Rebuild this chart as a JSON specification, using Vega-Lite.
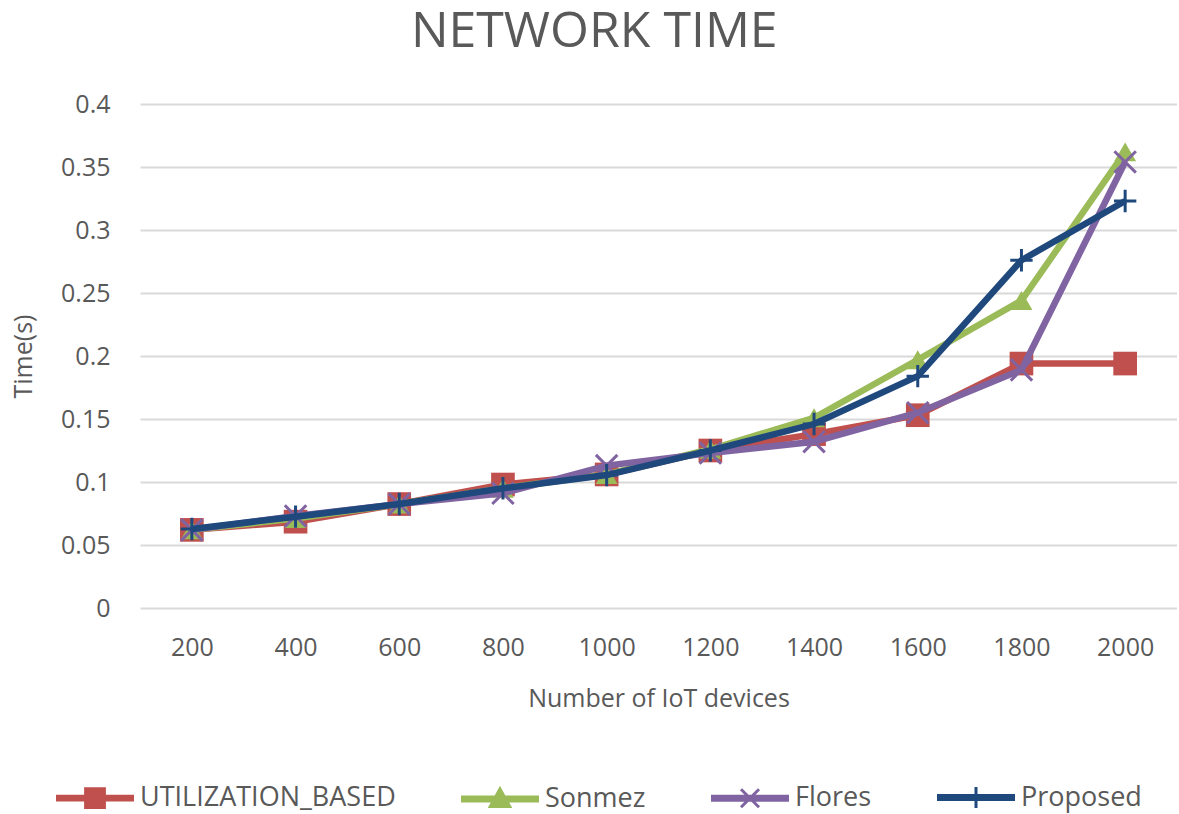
{
  "$schema": "https://vega.github.io/schema/vega-lite/v6.json",
  "width": 1037,
  "height": 504,
  "padding": {"left": 11, "top": 7, "right": 0, "bottom": 0},
  "background": "white",
  "title": {
    "text": "NETWORK TIME",
    "font": "Open Sans",
    "fontSize": 50,
    "fontWeight": "normal",
    "color": "#595959",
    "anchor": "middle",
    "frame": "bounds",
    "offset": 35
  },
  "data": {
    "values": [
      {"n": 200, "series": "UTILIZATION_BASED", "t": 0.062},
      {"n": 400, "series": "UTILIZATION_BASED", "t": 0.0685},
      {"n": 600, "series": "UTILIZATION_BASED", "t": 0.0825},
      {"n": 800, "series": "UTILIZATION_BASED", "t": 0.098},
      {"n": 1000, "series": "UTILIZATION_BASED", "t": 0.106},
      {"n": 1200, "series": "UTILIZATION_BASED", "t": 0.125},
      {"n": 1400, "series": "UTILIZATION_BASED", "t": 0.138},
      {"n": 1600, "series": "UTILIZATION_BASED", "t": 0.153},
      {"n": 1800, "series": "UTILIZATION_BASED", "t": 0.194},
      {"n": 2000, "series": "UTILIZATION_BASED", "t": 0.194},
      {"n": 200, "series": "Sonmez", "t": 0.062},
      {"n": 400, "series": "Sonmez", "t": 0.071},
      {"n": 600, "series": "Sonmez", "t": 0.0825},
      {"n": 800, "series": "Sonmez", "t": 0.095},
      {"n": 1000, "series": "Sonmez", "t": 0.106},
      {"n": 1200, "series": "Sonmez", "t": 0.126},
      {"n": 1400, "series": "Sonmez", "t": 0.151},
      {"n": 1600, "series": "Sonmez", "t": 0.197},
      {"n": 1800, "series": "Sonmez", "t": 0.244},
      {"n": 2000, "series": "Sonmez", "t": 0.362},
      {"n": 200, "series": "Flores", "t": 0.062},
      {"n": 400, "series": "Flores", "t": 0.073},
      {"n": 600, "series": "Flores", "t": 0.0825},
      {"n": 800, "series": "Flores", "t": 0.091},
      {"n": 1000, "series": "Flores", "t": 0.113},
      {"n": 1200, "series": "Flores", "t": 0.123},
      {"n": 1400, "series": "Flores", "t": 0.132},
      {"n": 1600, "series": "Flores", "t": 0.155},
      {"n": 1800, "series": "Flores", "t": 0.189},
      {"n": 2000, "series": "Flores", "t": 0.354},
      {"n": 200, "series": "Proposed", "t": 0.0627},
      {"n": 400, "series": "Proposed", "t": 0.0725},
      {"n": 600, "series": "Proposed", "t": 0.0825},
      {"n": 800, "series": "Proposed", "t": 0.095},
      {"n": 1000, "series": "Proposed", "t": 0.1055},
      {"n": 1200, "series": "Proposed", "t": 0.125},
      {"n": 1400, "series": "Proposed", "t": 0.146},
      {"n": 1600, "series": "Proposed", "t": 0.184},
      {"n": 1800, "series": "Proposed", "t": 0.276},
      {"n": 2000, "series": "Proposed", "t": 0.323}
    ]
  },
  "encoding": {
    "x": {
      "field": "n",
      "type": "ordinal",
      "scale": {"type": "point", "padding": 0.5},
      "axis": {
        "title": "Number of IoT devices",
        "labelAngle": 0,
        "labelPadding": 27,
        "titlePadding": 26
      }
    },
    "y": {
      "field": "t",
      "type": "quantitative",
      "scale": {"domain": [0, 0.4], "nice": false},
      "axis": {
        "title": "Time(s)",
        "values": [0, 0.05, 0.1, 0.15, 0.2, 0.25, 0.3, 0.35, 0.4],
        "format": "~g",
        "labelPadding": 30,
        "titlePadding": 24
      }
    },
    "color": {
      "field": "series",
      "type": "nominal",
      "scale": {
        "domain": ["UTILIZATION_BASED", "Sonmez", "Flores", "Proposed"],
        "range": ["#C0504D", "#9BBB59", "#8064A2", "#1F497D"]
      },
      "legend": {
        "title": null,
        "orient": "none",
        "legendX": -86,
        "legendY": 680,
        "direction": "horizontal",
        "symbolSize": 400,
        "symbolStrokeWidth": 3,
        "labelOffset": 59,
        "columnPadding": 60,
        "encode": {
          "symbols": {
            "update": {
              "shape": {"signal": "datum.value === 'UTILIZATION_BASED' ? 'M-1,-0.19H6.5V0.19H-1Z M1.81,-0.94H3.69V0.94H1.81Z' : datum.value === 'Sonmez' ? 'M-1,-0.19H6.5V0.19H-1Z M2.75,-1.01L3.725,0.75L1.775,0.75Z' : datum.value === 'Flores' ? 'M-1,-0.19H6.5V0.19H-1Z M1.85,-0.9L3.65,0.9M1.85,0.9L3.65,-0.9' : 'M-1,-0.19H6.5V0.19H-1Z M1.74,0L3.76,0M2.75,-1.05L2.75,1.05'"},
              "fill": {"scale": "color", "field": "value"},
              "stroke": {"scale": "color", "field": "value"},
              "opacity": {"value": 1}
            }
          }
        }
      }
    }
  },
  "layer": [
    {"transform": [{"filter": "datum.series === 'UTILIZATION_BASED'"}], "mark": {"type": "line", "strokeWidth": 6.5}},
    {"transform": [{"filter": "datum.series === 'UTILIZATION_BASED'"}], "mark": {"type": "point", "shape": "square", "filled": true, "size": 560, "opacity": 1}},
    {"transform": [{"filter": "datum.series === 'Sonmez'"}], "mark": {"type": "line", "strokeWidth": 6.5}},
    {"transform": [{"filter": "datum.series === 'Sonmez'"}], "mark": {"type": "point", "shape": "triangle-up", "filled": true, "size": 480, "opacity": 1}},
    {"transform": [{"filter": "datum.series === 'Flores'"}], "mark": {"type": "line", "strokeWidth": 6.5}},
    {"transform": [{"filter": "datum.series === 'Flores'"}], "mark": {"type": "point", "shape": "M-1,-1L1,1M-1,1L1,-1", "filled": false, "strokeWidth": 3, "size": 460, "opacity": 1}},
    {"transform": [{"filter": "datum.series === 'Proposed'"}], "mark": {"type": "line", "strokeWidth": 6.5}},
    {"transform": [{"filter": "datum.series === 'Proposed'"}], "mark": {"type": "point", "shape": "M-1,0L1,0M0,-1L0,1", "filled": false, "strokeWidth": 3, "size": 500, "opacity": 1}}
  ],
  "config": {
    "font": "Open Sans",
    "view": {"stroke": null},
    "axis": {
      "labelFont": "Open Sans",
      "labelFontSize": 25,
      "labelColor": "#595959",
      "titleFont": "Open Sans",
      "titleFontSize": 25,
      "titleFontWeight": "normal",
      "titleColor": "#595959",
      "domain": false,
      "ticks": false,
      "gridColor": "#d9d9d9",
      "gridWidth": 2
    },
    "axisX": {"grid": false},
    "legend": {
      "labelFont": "Open Sans",
      "labelFontSize": 27,
      "labelColor": "#595959",
      "labelLimit": 400
    }
  }
}
